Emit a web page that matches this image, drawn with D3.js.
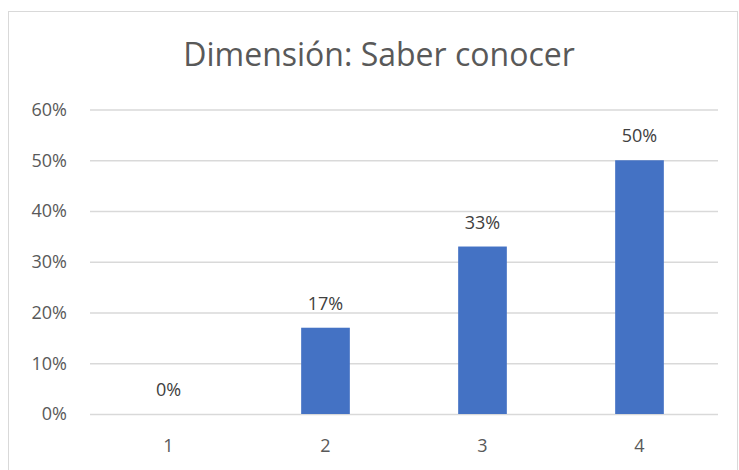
<!DOCTYPE html>
<html lang="es">
<head>
<meta charset="UTF-8">
<title>Dimensión: Saber conocer</title>
<script src="https://cdn.jsdelivr.net/npm/d3@7"></script>
<style>
    html, body { margin: 0; padding: 0; background: #fff; }
    svg { display: block; font-family: "Open Sans", sans-serif; }
</style>
</head>
<body>
<svg id="chart" width="739" height="470"></svg>
<script>
    // chart data
    var categories = ["1", "2", "3", "4"];
    var values = [0, 0.17, 0.33, 0.50];
    var valueLabels = ["0%", "17%", "33%", "50%"];
    var yTicks = [0, 0.1, 0.2, 0.3, 0.4, 0.5, 0.6];

    var svg = d3.select("#chart");

    // outer frame of the chart
    svg.append("rect")
        .attr("x", 8.5).attr("y", 11.5)
        .attr("width", 729).attr("height", 470)
        .attr("fill", "#fff")
        .attr("stroke", "#d9d9d9")
        .attr("stroke-width", 1);

    // plot area (named so they don't clash with window.top)
    var plotL = 90, plotR = 718, plotT = 109.5, plotB = 414;

    var x = d3.scaleBand()
        .domain(categories)
        .range([plotL, plotR])
        .paddingInner(0.69)
        .paddingOuter(0.345);

    var y = d3.scaleLinear()
        .domain([0, 0.6])
        .range([plotB, plotT]);

    // title
    svg.append("text")
        .attr("x", 379)
        .attr("y", 66)
        .attr("text-anchor", "middle")
        .attr("font-size", 32)
        .attr("fill", "#595959")
        .text("Dimensión: Saber conocer");

    // gridlines + y labels
    var yAxis = d3.axisLeft(y)
        .tickValues(yTicks)
        .tickSize(-(plotR - plotL))
        .tickPadding(23)
        .tickFormat(d3.format(".0%"));

    var gy = svg.append("g")
        .attr("transform", "translate(" + plotL + ",0)")
        .call(yAxis);
    gy.select(".domain").remove();
    gy.selectAll(".tick line")
        .attr("stroke", "#d9d9d9")
        .attr("stroke-width", 1.5);
    gy.selectAll(".tick text")
        .attr("font-size", 18)
        .attr("font-family", "Open Sans, sans-serif")
        .attr("fill", "#595959");

    // x labels
    var xAxis = d3.axisBottom(x).tickSize(0).tickPadding(25);
    var gx = svg.append("g")
        .attr("transform", "translate(0," + plotB + ")")
        .call(xAxis);
    gx.select(".domain").remove();
    gx.selectAll(".tick text")
        .attr("font-size", 18)
        .attr("font-family", "Open Sans, sans-serif")
        .attr("fill", "#595959");

    // bars
    svg.append("g")
        .selectAll("rect")
        .data(values)
        .enter().append("rect")
        .attr("x", function(d, i) { return x(categories[i]); })
        .attr("y", function(d) { return y(d); })
        .attr("width", x.bandwidth())
        .attr("height", function(d) { return plotB - y(d); })
        .attr("fill", "#4472c4");

    // value labels
    svg.append("g")
        .selectAll("text")
        .data(values)
        .enter().append("text")
        .attr("x", function(d, i) { return x(categories[i]) + x.bandwidth() / 2; })
        .attr("y", function(d) { return y(d) - 18; })
        .attr("text-anchor", "middle")
        .attr("font-size", 18)
        .attr("fill", "#404040")
        .text(function(d, i) { return valueLabels[i]; });
</script>
</body>
</html>
